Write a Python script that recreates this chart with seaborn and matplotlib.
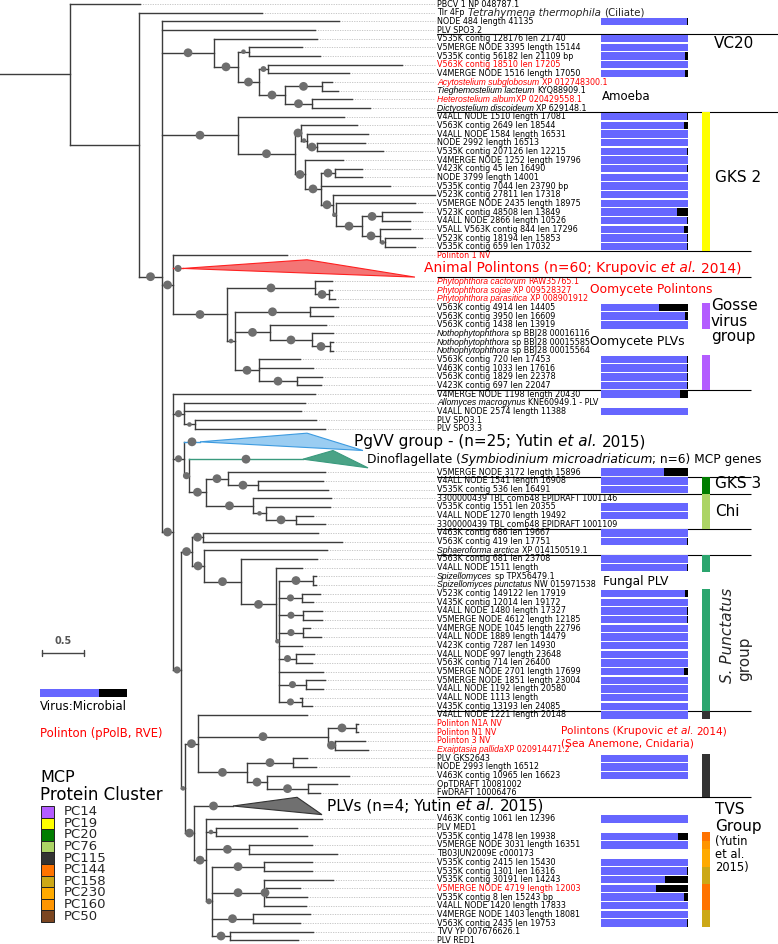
import re
import numpy as np
import pandas as pd
import matplotlib
matplotlib.use("Agg")
import matplotlib.pyplot as plt
import matplotlib.transforms as mtransforms
from matplotlib.patches import Polygon, Rectangle
from matplotlib.collections import LineCollection
import seaborn as sns

# ------------------------------------------------------------------ data
# Tree in Newick-like form: "support:depth" for internal nodes, "L:depth" for
# leaves and "Tn:depth" for collapsed clades (depth = distance from root,
# substitutions/site).
TOP = "(L:1.667,(L:3.119,(L:4.036,L:3.750,VC20,GKS2,POL,N173B)100:1.929)0:1.655)0:0.833"
VC20 = ("(L:3.774,((L:3.595,L:3.810)70:2.964,((L:4.786,L:4.155)80:3.190,((L:3.952,L:4.024)100:3.833,"
        "(L:4.190,L:4.405)100:3.714)100:3.393)100:3.083)100:2.833)100:2.548")
GKS2 = ("(L:4.095,((L:4.250,(L:4.381,(L:4.345,L:4.560)100:3.774)60:3.655)100:3.583,(L:4.083,((L:4.310,"
        "L:4.310)100:3.988,L:4.643,(L:5.179,(L:4.940,((L:5.024,L:4.881)100:4.548,(L:4.881,(L:5.024,"
        "L:4.940)60:4.583)100:4.524)100:4.310)60:4.000)100:3.964)100:3.821)100:3.631)100:3.512)100:2.833")
POL = ("(L:3.417,T0:2.179,((L:3.952,(L:3.952,L:3.988)100:3.917)100:3.750,((L:4.024,L:3.964)100:3.690,"
       "(L:3.881,(L:3.964,(L:3.964,L:3.964)100:3.929)100:3.714)100:3.214,(L:3.571,L:3.726,(L:3.833,"
       "L:3.821)100:3.536)100:3.083)60:2.798)100:2.702)100:2.060")
N173B = ("(L:3.750,(L:3.631,L:3.583,(L:3.762,L:3.869)70:2.321)90:2.190,(T1:2.381,(T2:3.607,((L:3.869,"
         "(L:3.845,L:3.905)100:3.071)100:2.714,(L:3.940,(L:3.929,(L:3.726,L:3.869)100:3.524)70:3.167)"
         "100:3.012)100:2.452)90:2.250)90:2.190,N181)100:2.060")
N181 = "(N192,N185)90:2.155"
N192 = "((L:3.786,L:4.071)100:2.417,(L:3.893,(L:3.774,SPUNCT)100:2.869)100:2.429)100:2.286"
SPUNCT = ("(L:3.595,((L:3.762,L:3.762)100:3.726,(L:3.810,L:3.726)90:3.595,(L:3.833,L:3.833)90:3.607,"
          "(L:3.690,L:3.821)90:3.607,L:3.595,(L:3.738,L:3.714)90:3.524,L:3.845,(L:3.869,L:3.845)90:3.643,"
          "(L:3.571,L:3.714)90:3.595)60:3.321)100:3.286")
N185 = ("((L:3.655,((L:4.262,L:4.262)100:4.238,(L:4.345,L:4.381)100:3.988)100:3.905,((L:3.655,"
        "L:3.762)100:3.488,(L:4.155,(L:4.012,L:3.810)100:3.667)100:3.179)100:2.940)100:2.357,"
        "(T3:2.774,TVS)100:2.310)70:2.202")
TVS = ("(L:3.833,(L:3.536,L:3.655)70:2.571,(L:3.714,L:4.012)100:2.964,((L:3.714,L:3.714)100:3.143,"
       "(L:3.964,(L:3.571,L:3.655)100:3.167,L:3.643)100:3.143,(L:3.690,L:3.571)100:3.012,"
       "(L:3.726,L:3.548)100:2.738)80:2.524)100:2.452")

# collapsed clades: (min tip depth, max tip depth, support)
TRIANGLES = {"T0": (3.655, 4.940, 90), "T1": (3.655, 4.321, 100),
             "T2": (3.964, 4.381, 100), "T3": (3.536, 3.833, 100)}
TRI_NAMES = {"T0": "Animal Polintons (n=60; Krupovic *et al.* 2014)",
             "T1": "PgVV group - (n=25; Yutin *et al.* 2015)",
             "T2": "Dinoflagellate (*Symbiodinium microadriaticum*; n=6) MCP genes",
             "T3": "PLVs (n=4; Yutin *et al.* 2015)"}

LEAVES = [
    "PBCV 1 NP 048787.1", "Tlr 4Fp", "NODE 484 length 41135", "PLV SPO3.2",
    "V535K contig 128176 len 21740", "V5MERGE NODE 3395 length 15144", "V535K contig 56182 len 21109 bp",
    "V563K contig 18510 len 17205", "V4MERGE NODE 1516 length 17050",
    "*Acytostelium subglobosum* XP 012748300.1", "*Tieghemostelium lacteum* KYQ88909.1",
    "*Heterostelium album*XP 020429558.1", "*Dictyostelium discoideum* XP 629148.1",
    "V4ALL NODE 1510 length 17081", "V563K contig 2649 len 18544", "V4ALL NODE 1584 length 16531",
    "NODE 2992 length 16513", "V535K contig 207126 len 12215", "V4MERGE NODE 1252 length 19796",
    "V423K contig 45 len 16490", "NODE 3799 length 14001", "V535K contig 7044 len 23790 bp",
    "V523K contig 27811 len 17318", "V5MERGE NODE 2435 length 18975", "V523K contig 48508 len 13849",
    "V4ALL NODE 2866 length 10526", "V5ALL V563K contig 844 len 17296", "V523K contig 18194 len 15853",
    "V535K contig 659 len 17032", "Polinton 1 NV",
    "*Phytophthora cactorum* RAW35765.1", "*Phytophthora sojae* XP 009528327",
    "*Phytophthora parasitica* XP 008901912",
    "V563K contig 4914 len 14405", "V563K contig 3950 len 16609", "V563K contig 1438 len 13919",
    "*Nothophytophthora* sp BBJ28 00016116", "*Nothophytophthora* sp BBJ28 00015585",
    "*Nothophytophthora* sp BBJ28 00015564",
    "V563K contig 720 len 17453", "V463K contig 1033 len 17616", "V563K contig 1829 len 22378",
    "V423K contig 697 len 22047", "V4MERGE NODE 1198 length 20430",
    "*Allomyces macrogynus* KNE60949.1 - PLV", "V4ALL NODE 2574 length 11388", "PLV SPO3.1", "PLV SPO3.3",
    "V5MERGE NODE 3172 length 15896", "V4ALL NODE 1541 length 16908", "V535K contig 536 len 16491",
    "3300000439 TBL comb48 EPIDRAFT 1001146", "V535K contig 1551 len 20355", "V4ALL NODE 1270 length 19492",
    "3300000439 TBL comb48 EPIDRAFT 1001109", "V463K contig 686 len 19667", "V563K contig 419 len 17751",
    "*Sphaeroforma arctica* XP 014150519.1", "V563K contig 681 len 23708", "V4ALL NODE 1511 length",
    "*Spizellomyces* sp TPX56479.1", "*Spizellomyces punctatus* NW 015971538",
    "V523K contig 149122 len 17919", "V435K contig 12014 len 19172", "V4ALL NODE 1480 length 17327",
    "V5MERGE NODE 4612 length 12185", "V4MERGE NODE 1045 length 22796", "V4ALL NODE 1889 length 14479",
    "V423K contig 7287 len 14930", "V4ALL NODE 997 length 23648", "V563K contig 714 len 26400",
    "V5MERGE NODE 2701 length 17699", "V5MERGE NODE 1851 length 23004", "V4ALL NODE 1192 length 20580",
    "V4ALL NODE 1113 length", "V435K contig 13193 len 24085", "V4ALL NODE 1221 length 20148",
    "Polinton N1A NV", "Polinton N1 NV", "Polinton 3 NV", "*Exaiptasia pallida*XP 020914471.2",
    "PLV GKS2643", "NODE 2993 length 16512", "V463K contig 10965 len 16623", "OpTDRAFT 10081002",
    "FwDRAFT 10006476",
    "V463K contig 1061 len 12396", "PLV MED1", "V535K contig 1478 len 19938",
    "V5MERGE NODE 3031 length 16351", "TB03JUN2009E c000173", "V535K contig 2415 len 15430",
    "V535K contig 1301 len 16316", "V535K contig 30191 len 14243", "V5MERGE NODE 4719 length 12003",
    "V535K contig 8 len 15243 bp", "V4ALL NODE 1420 length 17833", "V4MERGE NODE 1403 length 18081",
    "V563K contig 2435 len 19753", "TVV YP 007676626.1", "PLV RED1",
]
LEAF_NOTES = {"Tlr 4Fp": "*Tetrahymena thermophila* (Ciliate)"}
POLINTON_LEAVES = {
    "V563K contig 18510 len 17205", "*Acytostelium subglobosum* XP 012748300.1",
    "*Heterostelium album*XP 020429558.1", "Polinton 1 NV", "*Phytophthora cactorum* RAW35765.1",
    "*Phytophthora sojae* XP 009528327", "*Phytophthora parasitica* XP 008901912",
    "Polinton N1A NV", "Polinton N1 NV", "Polinton 3 NV", "*Exaiptasia pallida*XP 020914471.2",
    "V5MERGE NODE 4719 length 12003",
}

# microbial share of Virus:Microbial read ratio (None = no bar), one per leaf
MICROBIAL = [
    None, None, 0.01, None, 0, 0, 0.03, 0, 0.03, None, None, None, None,
    0.01, 0.05, 0, 0, 0.01, 0, 0.01, 0, 0, 0, 0, 0.13, 0.01, 0.05, 0.01, 0.01,
    None, None, None, None, 0.33, 0.03, 0, None, None, None, 0.01, 0.01, 0.01, 0.01,
    0.09, None, 0, None, None,
    0.28, 0, 0, None, 0, 0, None, 0, 0.01, None, 0, 0.01, None, None,
    0.03, 0, 0.01, 0.01, 0, 0, 0, 0, 0, 0.045, 0, 0, 0, 0, 0,
    None, None, None, None, 0, 0, 0, None, None,
    0, None, 0.12, 0, None, 0, 0.01, 0.26, 0.37, 0.05, 0, 0, 0.01, None, None,
]
# MCP protein cluster per leaf
MCP = (
    [None] * 13 + ["PC19"] * 16 + [None] * 4 + ["PC14"] * 3 + [None] * 3 + ["PC14"] * 4
    + [None] * 6 + ["PC20"] * 2 + ["PC76"] * 4 + [None] * 3 + ["SP"] * 2 + [None] * 2
    + ["SP"] * 14 + ["PC115"] + [None] * 4 + ["PC115"] * 5 + [None] * 2
    + ["PC144", "PC160", "PC230", "PC230", "PC158", "PC158", "PC144", "PC144", "PC144",
       "PC158", "PC158", None, None]
)
LEGEND_PCS = ["PC14", "PC19", "PC20", "PC76", "PC115", "PC144", "PC158", "PC230", "PC160", "PC50"]

# leaves whose label is followed by a group separator, and its extent
SEPARATORS = {"PLV SPO3.2": "long", "*Dictyostelium discoideum* XP 629148.1": "long",
              "V535K contig 659 len 17032": "short", "T0": "short",
              "V423K contig 697 len 22047": "short", "V5MERGE NODE 3172 length 15896": "short",
              "V535K contig 536 len 16491": "short", "3300000439 TBL comb48 EPIDRAFT 1001109": "short",
              "*Sphaeroforma arctica* XP 014150519.1": "short",
              "V435K contig 13193 len 24085": "short", "FwDRAFT 10006476": "short"}
SCALE_LEN = 0.5

# ------------------------------------------------------------------ style
W, H = 778, 944
PX_PER_UNIT = 84.0
ROW0_PX, ROW_PX = 4.0, 8.67
LABEL_X_PX, LEAD_END_PX = 437, 435
LABEL_SIZE = 5.8
ITALIC_LABEL_SIZE = 6.2
BLUE = "#6666ff"
PC_COLORS = {"PC14": "#b35cff", "PC19": "#ffff00", "PC20": "#007d00", "PC76": "#acd465",
             "PC115": "#333333", "PC144": "#ff7300", "PC158": "#cca817", "PC230": "#ffaa00",
             "PC160": "#ff9500", "PC50": "#7b4520", "SP": "#2ba56e"}
TRI_STYLE = {"T0": ("#f47575", "#ff2020"), "T1": ("#9acdf2", "#3d9be0"),
             "T2": ("#4aa386", "#3a9a7e"), "T3": ("#707070", "#333333")}
LINE = "#3c3c3c"

sns.set_theme(style="white")
plt.rcParams["font.family"] = ["DejaVu Sans"]


def split_italic(s):
    out = []
    for p in re.split(r"(\*[^*]+\*)", s):
        if p:
            out.append((p[1:-1], True) if p.startswith("*") else (p, False))
    return out


def rich_text(ax, x, y, s, transform, size, color, it_family="DejaVu Sans", it_size=None,
              zorder=3):
    """Draw text whose *starred* parts are italic, segment after segment."""
    prev, gap = None, 0.0
    for txt, it in split_italic(s):
        if txt.startswith(" "):
            gap = 0.32 * size
        core = txt.strip(" ")
        kw = dict(fontsize=size, color=color, va="center", ha="left", zorder=zorder)
        if it:
            kw.update(style="italic", family=it_family, fontsize=it_size or size)
        if prev is None:
            prev = ax.text(x, y, core, transform=transform, **kw)
        else:
            prev = ax.annotate(core, xy=(1, 0.5), xycoords=prev, xytext=(gap, 0),
                               textcoords="offset points", **kw)
        gap = 0.32 * size if txt.endswith(" ") else 0.0
    return prev


def parse_tree(s):
    i = 0

    def number():
        nonlocal i
        j = i
        while i < len(s) and (s[i].isdigit() or s[i] == "."):
            i += 1
        return s[j:i]

    def node():
        nonlocal i
        if s[i] == "(":
            i += 1
            kids = [node()]
            while s[i] == ",":
                i += 1
                kids.append(node())
            i += 1
            sup = number()
            i += 1
            return {"kids": kids, "support": float(sup) if sup else 0.0, "depth": float(number())}
        j = i
        while s[i] != ":":
            i += 1
        name = s[j:i]
        i += 1
        return {"name": name, "depth": float(number())}

    return node()


newick = TOP
for key, val in [("VC20", VC20), ("GKS2", GKS2), ("POL", POL), ("N173B", N173B), ("N181", N181),
                 ("N192", N192), ("N185", N185), ("SPUNCT", SPUNCT), ("TVS", TVS)]:
    newick = newick.replace(key, val)
root = parse_tree(newick)

counter = [0]
leaf_nodes, tri_nodes = [], []


def layout(n):
    if "kids" in n:
        for k in n["kids"]:
            layout(k)
        n["y"] = (n["kids"][0]["y"] + n["kids"][-1]["y"]) / 2
    elif n["name"] == "L":
        n["y"] = counter[0]
        counter[0] += 1
        leaf_nodes.append(n)
    else:
        n["y"] = counter[0] + 0.5
        n["rows"] = (counter[0], counter[0] + 1)
        counter[0] += 2
        tri_nodes.append(n)


layout(root)
leaf_rows = [n["y"] for n in leaf_nodes]

fig = plt.figure(figsize=(W / 100, H / 100), dpi=100)
ax = fig.add_axes([0, 0, 1, 1])
XLIM = (0, W / PX_PER_UNIT)
YLIM = ((H - ROW0_PX) / ROW_PX, -ROW0_PX / ROW_PX)
ax.set_xlim(*XLIM)
ax.set_ylim(*YLIM)
ax.axis("off")
tr = mtransforms.blended_transform_factory(fig.transFigure, ax.transData)


def fx(px):
    return px / W


def fy(py):
    return 1 - py / H


def xdata(px):
    return ax.transData.inverted().transform(fig.transFigure.transform((fx(px), 0)))[0]


# --- tree
segs, cols, circles = [], [], []


def draw(n, pdepth):
    c = TRI_STYLE[n["name"]][1] if n.get("name", "L") != "L" and n["name"] != "T3" else LINE
    segs.append([(pdepth, n["y"]), (n["depth"], n["y"])])
    cols.append(c)
    if "kids" in n:
        segs.append([(n["depth"], n["kids"][0]["y"]), (n["depth"], n["kids"][-1]["y"])])
        cols.append(LINE)
        if n["support"] >= 60:
            circles.append(((pdepth + n["depth"]) / 2, n["y"], n["support"]))
        for k in n["kids"]:
            draw(k, n["depth"])
    elif n["name"] in TRIANGLES:
        circles.append(((pdepth + n["depth"]) / 2, n["y"], TRIANGLES[n["name"]][2]))


draw(root, 0.0)
ax.add_collection(LineCollection(segs, colors=cols, linewidths=1.0, zorder=2, capstyle="projecting"))
cx, cy, cs = zip(*circles)
sizes = [40 if s >= 95 else 26 if s >= 85 else 18 if s >= 75 else 11 for s in cs]
ax.scatter(cx, cy, s=sizes, color="#6e6e6e", zorder=3, linewidths=0)

for n in tri_nodes:
    lo, hi, _ = TRIANGLES[n["name"]]
    r0, r1 = n["rows"]
    fc, ec = TRI_STYLE[n["name"]]
    ax.add_patch(Polygon([(n["depth"], n["y"]), (lo, r0 - 0.5), (hi, r1 + 0.5)], closed=True,
                         fc=fc, ec=ec, lw=0.8, zorder=2))

# leaders and labels
lead_x = xdata(LEAD_END_PX)
ax.hlines(leaf_rows, [n["depth"] for n in leaf_nodes], lead_x, colors="#b8b8b8",
          linestyles=(0, (1.6, 1.6)), linewidths=0.55, zorder=1)
for lab, n in zip(LEAVES, leaf_nodes):
    col = "#ff0000" if lab in POLINTON_LEAVES else "black"
    t = rich_text(ax, fx(LABEL_X_PX), n["y"], lab, tr, LABEL_SIZE, col,
                  it_family="Liberation Sans", it_size=ITALIC_LABEL_SIZE)
    if lab in LEAF_NOTES:
        note = split_italic(LEAF_NOTES[lab])
        t2 = ax.annotate(note[0][0], xy=(1, 0.5), xycoords=t, xytext=(2.5, 0),
                         textcoords="offset points", va="center", ha="left", fontsize=7.4,
                         style="italic")
        ax.annotate(note[1][0].strip(), xy=(1, 0.5), xycoords=t2, xytext=(2.4, 0),
                    textcoords="offset points", va="center", ha="left", fontsize=7.4)

# separators
row_of = {lab: n["y"] for lab, n in zip(LEAVES, leaf_nodes)}
for n in tri_nodes:
    row_of[n["name"]] = n["rows"][1]
for key, ext in SEPARATORS.items():
    ax.hlines(row_of[key] + 0.5, fx(LABEL_X_PX), fx(W if ext == "long" else 751), transform=tr,
              colors="black", linewidths=0.8, zorder=4)

# triangle annotations
TRI_TEXT = {"T0": (424, 10.0, "#ff0000"), "T1": (354, 11.0, "black"),
            "T2": (367, 8.8, "black"), "T3": (327, 11.0, "black")}
for n in tri_nodes:
    xpx, size, col = TRI_TEXT[n["name"]]
    rich_text(ax, fx(xpx), n["y"], TRI_NAMES[n["name"]], tr, size, col, zorder=5)

# --- Virus:Microbial bars (seaborn)
bar_df = pd.DataFrame({
    "row": [r for r, f in zip(leaf_rows, MICROBIAL) if f is not None],
    "total": 1.0,
    "virus": [1 - f for f in MICROBIAL if f is not None],
})
bax = fig.add_axes([fx(601), 0, fx(688) - fx(601), 1])
sns.barplot(data=bar_df, x="total", y="row", orient="h", native_scale=True, color="black",
            width=0.86, errorbar=None, saturation=1, linewidth=0, ax=bax)
sns.barplot(data=bar_df, x="virus", y="row", orient="h", native_scale=True, color=BLUE,
            width=0.86, errorbar=None, saturation=1, linewidth=0, ax=bax)
bax.set_xlim(0, 1)
bax.set_ylim(*YLIM)
bax.axis("off")
bax.patch.set_alpha(0)

# --- MCP cluster strip (seaborn)
strip_df = pd.DataFrame({
    "row": [r for r, p in zip(leaf_rows, MCP) if p is not None],
    "one": 1.0,
    "pc": [p for p in MCP if p is not None],
})
sax = fig.add_axes([fx(702), 0, fx(710) - fx(702), 1])
sns.barplot(data=strip_df, x="one", y="row", hue="pc", palette=PC_COLORS, orient="h",
            native_scale=True, width=1.0, dodge=False, legend=False, errorbar=None,
            saturation=1, linewidth=0, ax=sax)
sax.set_xlim(0, 1)
sax.set_ylim(*YLIM)
sax.axis("off")
sax.patch.set_alpha(0)

# --- group annotations (figure pixels)
ANNOT = [
    ("VC20", 714, 43, 11, "black"),
    ("Amoeba", 602, 96, 8.5, "black"),
    ("GKS 2", 715, 177, 11, "black"),
    ("Oomycete Polintons", 590, 289, 8.8, "#ff0000"),
    ("Gosse", 711, 306, 11, "black"),
    ("virus", 711, 322, 11, "black"),
    ("group", 711, 337, 11, "black"),
    ("Oomycete PLVs", 590, 342, 8.8, "black"),
    ("GKS 3", 715, 484, 11, "black"),
    ("Chi", 715, 512, 11, "black"),
    ("Fungal PLV", 603, 582, 8.7, "black"),
    ("Polintons (Krupovic *et al.* 2014)", 561, 731, 7.6, "#ff0000"),
    ("(Sea Anemone, Cnidaria)", 561, 744, 7.6, "#ff0000"),
    ("TVS", 715, 809, 11, "black"),
    ("Group", 715, 826, 11, "black"),
    ("(Yutin", 715, 842, 8.3, "black"),
    ("et al.", 715, 855, 8.3, "black"),
    ("2015)", 715, 868, 8.3, "black"),
    ("MCP", 40, 778, 11.5, "black"),
    ("Protein Cluster", 40, 795, 12, "black"),
    ("Virus:Microbial", 40, 707, 8.5, "black"),
    ("Polinton (pPolB, RVE)", 40, 734, 8.4, "#ff0000"),
]
for s, x, y, size, col in ANNOT:
    rich_text(ax, fx(x), fy(y), s, fig.transFigure, size, col, zorder=5)
fig.text(fx(727), fy(683), "S. Punctatus", fontsize=11, style="italic", rotation=90,
         rotation_mode="anchor", ha="left", va="center")
fig.text(fx(745), fy(681), "group", fontsize=11, rotation=90, rotation_mode="anchor",
         ha="left", va="center")

# scale bar
sb_y = (653 - ROW0_PX) / ROW_PX
x0 = xdata(42)
ax.plot([x0, x0 + SCALE_LEN], [sb_y, sb_y], color="#444444", lw=1.0)
for xe in (x0, x0 + SCALE_LEN):
    ax.plot([xe, xe], [sb_y - 0.3, sb_y + 0.3], color="#444444", lw=1.0)
ax.text(x0 + SCALE_LEN / 2, sb_y - 0.75, f"{SCALE_LEN}", ha="center", va="bottom",
        fontsize=7, color="#555555", fontweight="bold")

# Virus:Microbial legend bar
fig.add_artist(Rectangle((fx(40), fy(697)), fx(99) - fx(40), fy(689) - fy(697),
                         transform=fig.transFigure, fc=BLUE, ec="none"))
fig.add_artist(Rectangle((fx(99), fy(697)), fx(127) - fx(99), fy(689) - fy(697),
                         transform=fig.transFigure, fc="black", ec="none"))

# MCP legend
for i, pc in enumerate(LEGEND_PCS):
    top = 806 + 11.6 * i
    fig.add_artist(Rectangle((fx(41), fy(top + 11.6)), fx(54) - fx(41), fy(top) - fy(top + 11.6),
                             transform=fig.transFigure, fc=PC_COLORS[pc], ec="#222222", lw=0.7))
    fig.text(fx(64), fy(top + 5.8), pc, fontsize=9.5, ha="left", va="center")

fig.savefig("out.png", dpi=100)
